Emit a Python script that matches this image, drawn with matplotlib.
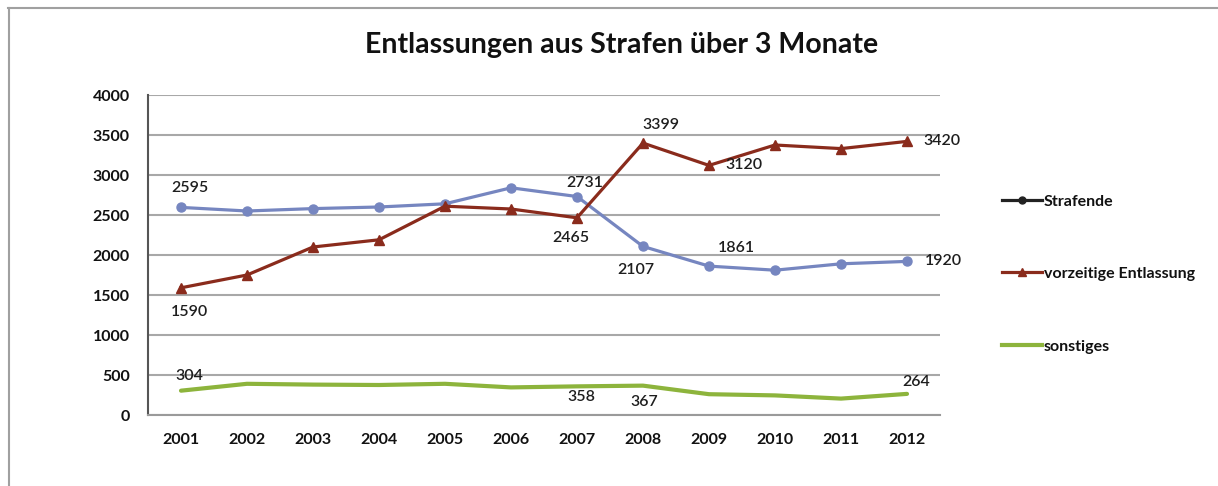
import matplotlib
matplotlib.use("Agg")
import matplotlib.pyplot as plt
from matplotlib.lines import Line2D

plt.rcParams['font.family'] = ['Lato', 'DejaVu Sans']

years = ['2001', '2002', '2003', '2004', '2005', '2006', '2007', '2008', '2009', '2010', '2011', '2012']
strafende = [2595, 2550, 2580, 2600, 2640, 2840, 2731, 2107, 1861, 1810, 1890, 1920]
vorzeitig = [1590, 1750, 2100, 2190, 2610, 2575, 2465, 3399, 3120, 3375, 3330, 3420]
sonstiges = [304, 390, 380, 375, 390, 345, 358, 367, 260, 245, 205, 264]
series_names = ['Strafende', 'vorzeitige Entlassung', 'sonstiges']
title = 'Entlassungen aus Strafen über 3 Monate'

# labelled points: (index, offset px)
labels_straf = [(0, (9, 19)), (6, (8, 14)), (7, (-7, -24)), (8, (27, 18)), (11, (36, 0))]
labels_vorz = [(0, (9, -24)), (6, (-6, -20)), (7, (18, 18)), (8, (35, 0)), (11, (35, 0))]
labels_sonst = [(0, (8, 15)), (6, (4, -11)), (7, (1, -16)), (11, (9, 12))]

c_straf = '#7686c0'
c_vorz = '#8a2b1c'
c_sonst = '#8db43c'

fig = plt.figure(figsize=(12.18, 4.86), dpi=100)
fig.patch.set_facecolor('white')
# frame lines (top and left visible in the scan)
fig.add_artist(Line2D([8 / 1218, 1.0], [1 - 8 / 486, 1 - 8 / 486], transform=fig.transFigure,
                      color='#a0a0a0', lw=1.5))
fig.add_artist(Line2D([9 / 1218, 9 / 1218], [0, 1 - 8 / 486], transform=fig.transFigure,
                      color='#a0a0a0', lw=1.5))

ax = fig.add_axes([148 / 1218, 1 - 415 / 486, 792 / 1218, 320 / 486])
x = list(range(len(years)))

ax.plot(x, sonstiges, color=c_sonst, lw=3.0, solid_capstyle='round', zorder=3)
ax.plot(x, strafende, color=c_straf, lw=2.3, marker='o', markersize=6.5,
        markerfacecolor=c_straf, markeredgecolor=c_straf, zorder=4)
ax.plot(x, vorzeitig, color=c_vorz, lw=2.3, marker='^', markersize=7,
        markerfacecolor=c_vorz, markeredgecolor=c_vorz, zorder=5)

def lab(series, spec):
    for i, (dx, dy) in spec:
        ax.annotate(str(series[i]), (x[i], series[i]), xytext=(dx * 0.72, dy * 0.72),
                    textcoords='offset points', ha='center', va='center',
                    fontsize=11.5, fontweight='semibold', color='#1e1e1e', zorder=6)

lab(strafende, labels_straf)
lab(vorzeitig, labels_vorz)
lab(sonstiges, labels_sonst)

ax.set_xlim(-0.5, len(years) - 0.5)
ax.set_ylim(0, 4000)
ax.set_yticks(range(0, 4001, 500))
ax.set_xticks(x)
ax.set_xticklabels(years)
ax.tick_params(length=0, labelsize=11.5)
ax.tick_params(axis='x', pad=13)
ax.tick_params(axis='y', pad=13)
for t in ax.get_xticklabels() + ax.get_yticklabels():
    t.set_fontweight('bold')
    t.set_color('#111111')
ax.grid(axis='y', color='#a8a8a8', lw=1.5)
ax.set_axisbelow(True)
for s in ['top', 'right']:
    ax.spines[s].set_visible(False)
ax.spines['left'].set_color('#555555')
ax.spines['left'].set_linewidth(1.5)
ax.spines['bottom'].set_color('#9a9a9a')
ax.spines['bottom'].set_linewidth(1.5)

fig.text(622 / 1218, 1 - 45 / 486, title, ha='center', va='center',
         fontsize=20.5, fontweight='bold', color='#111111')

handles = [Line2D([], [], color='#222222', lw=2.3, marker='o', markersize=5),
           Line2D([], [], color=c_vorz, lw=2.3, marker='^', markersize=6),
           Line2D([], [], color=c_sonst, lw=3.0)]
leg = fig.legend(handles, series_names, loc='upper left',
                 bbox_to_anchor=(996 / 1218, 1 - 188 / 486), frameon=False,
                 prop={'size': 11.5, 'weight': 'bold'}, handlelength=2.5,
                 handletextpad=0.1, labelspacing=3.65, borderaxespad=0)
for t in leg.get_texts():
    t.set_color('#111111')

fig.savefig('out.png', dpi=100, facecolor='white')
